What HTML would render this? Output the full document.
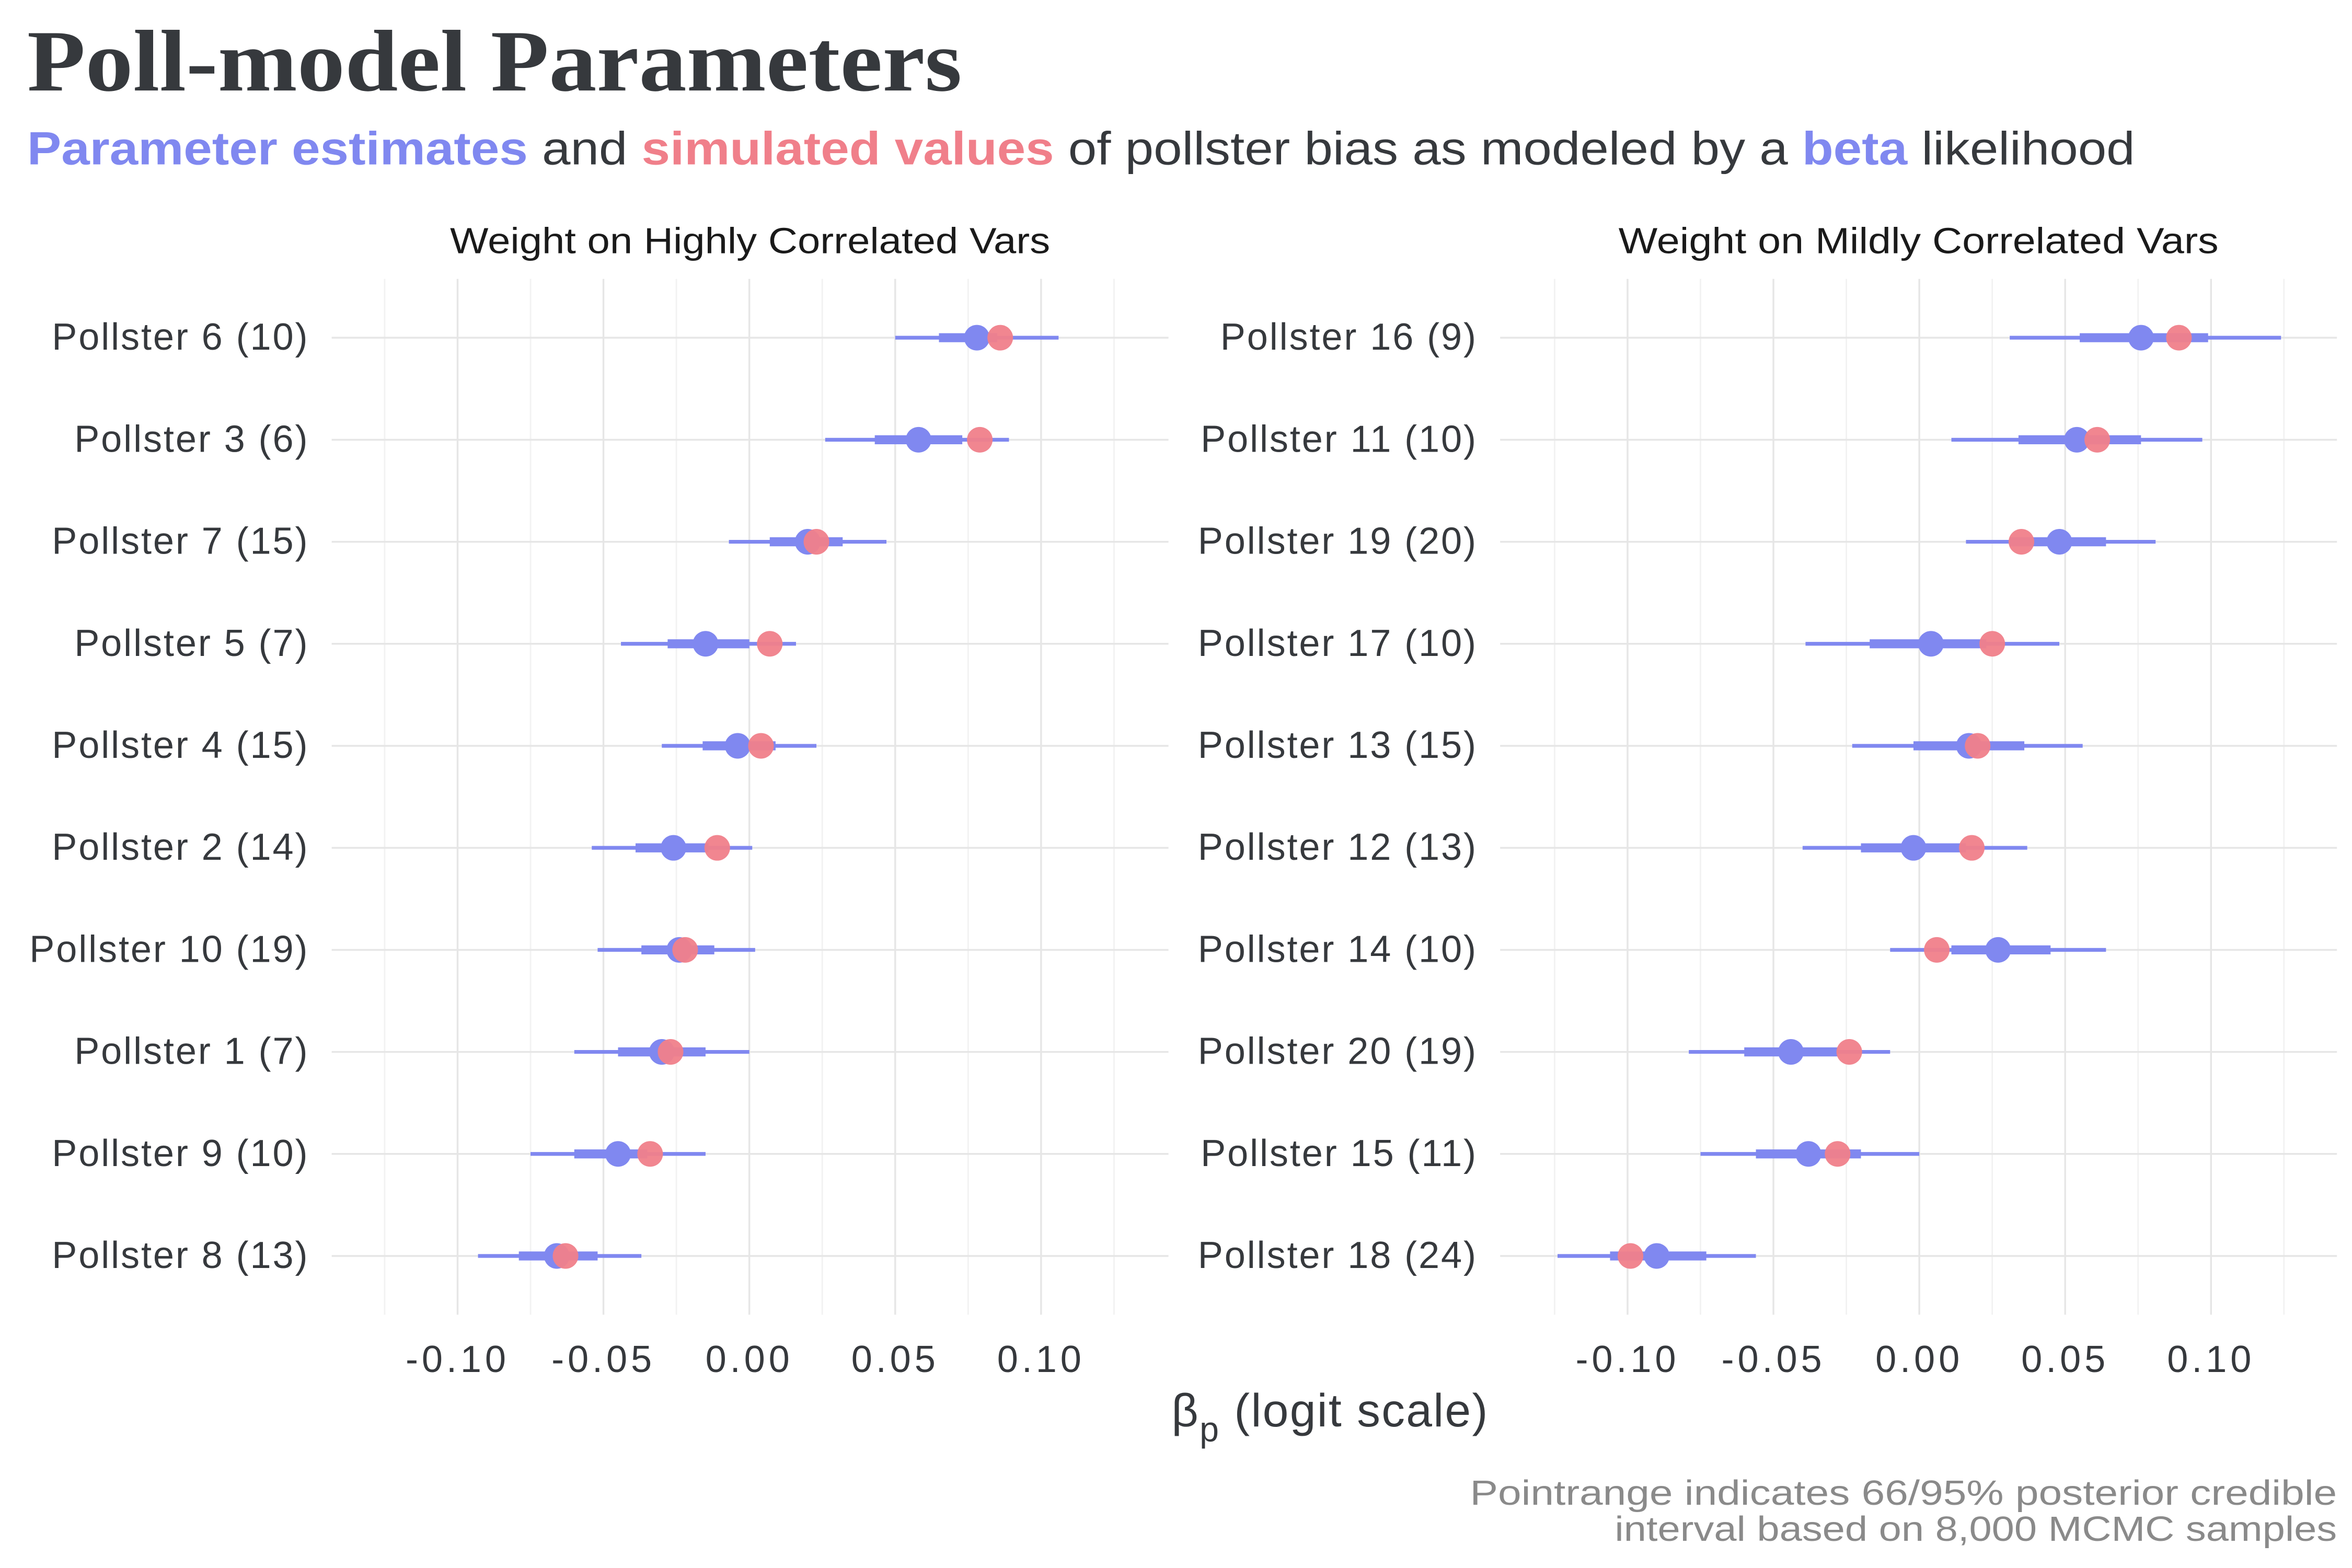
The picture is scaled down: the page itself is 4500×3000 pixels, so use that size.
<!DOCTYPE html>
<html><head><meta charset="utf-8"><style>
html,body{margin:0;padding:0;background:#fff;}
svg{display:block;}
text{font-family:"Liberation Sans",sans-serif;}
</style></head>
<body>
<svg id="chart" width="4500" height="3000" viewBox="0 0 1560 1040" xmlns="http://www.w3.org/2000/svg">
<text x="18" y="60" font-weight="bold" font-size="58" fill="#36393d" textLength="620" lengthAdjust="spacingAndGlyphs" style="font-family:'Liberation Serif',serif">Poll-model Parameters</text>
<text x="18" y="109" font-size="31" fill="#36393d" textLength="1398" lengthAdjust="spacingAndGlyphs"><tspan fill="#8088f0" font-weight="bold">Parameter estimates</tspan> and <tspan fill="#f07f8a" font-weight="bold">simulated values</tspan> of pollster bias as modeled by a <tspan fill="#8088f0" font-weight="bold">beta</tspan> likelihood</text>
<g id="panels"></g>
<text x="777" y="946" font-size="31" fill="#36393d" letter-spacing="0.8">β<tspan font-size="23" dy="10">p</tspan><tspan dy="-10"> (logit scale)</tspan></text>
<text x="975" y="998" font-size="23" fill="#8a8a8a" textLength="575" lengthAdjust="spacingAndGlyphs">Pointrange indicates 66/95% posterior credible</text>
<text x="1071" y="1022" font-size="23" fill="#8a8a8a" textLength="479" lengthAdjust="spacingAndGlyphs">interval based on 8,000 MCMC samples</text>
</svg>
<script>
const leftLabels=["Pollster 6 (10)","Pollster 3 (6)","Pollster 7 (15)","Pollster 5 (7)","Pollster 4 (15)","Pollster 2 (14)","Pollster 10 (19)","Pollster 1 (7)","Pollster 9 (10)","Pollster 8 (13)"];
const leftEst=[0.078,0.058,0.020,-0.015,-0.004,-0.026,-0.024,-0.030,-0.045,-0.066];
const leftSim=[0.086,0.079,0.023,0.007,0.004,-0.011,-0.022,-0.027,-0.034,-0.063];
const leftInLo=[0.065,0.043,0.007,-0.028,-0.016,-0.039,-0.037,-0.045,-0.060,-0.079];
const leftInHi=[0.085,0.073,0.032,0.000,0.009,-0.014,-0.012,-0.015,-0.035,-0.052];
const leftOutLo=[0.050,0.026,-0.007,-0.044,-0.030,-0.054,-0.052,-0.060,-0.075,-0.093];
const leftOutHi=[0.106,0.089,0.047,0.016,0.023,0.001,0.002,0.000,-0.015,-0.037];
const rightLabels=["Pollster 16 (9)","Pollster 11 (10)","Pollster 19 (20)","Pollster 17 (10)","Pollster 13 (15)","Pollster 12 (13)","Pollster 14 (10)","Pollster 20 (19)","Pollster 15 (11)","Pollster 18 (24)"];
const rightEst=[0.076,0.054,0.048,0.004,0.017,-0.002,0.027,-0.044,-0.038,-0.090];
const rightSim=[0.089,0.061,0.035,0.025,0.020,0.018,0.006,-0.024,-0.028,-0.099];
const rightInLo=[0.055,0.034,0.031,-0.017,-0.002,-0.020,0.011,-0.060,-0.056,-0.106];
const rightInHi=[0.099,0.076,0.064,0.023,0.036,0.016,0.045,-0.028,-0.020,-0.073];
const rightOutLo=[0.031,0.011,0.016,-0.039,-0.023,-0.040,-0.010,-0.079,-0.075,-0.124];
const rightOutHi=[0.124,0.097,0.081,0.048,0.056,0.037,0.064,-0.010,0.000,-0.056];
const tickVals=[-0.10,-0.05,0.00,0.05,0.10];
const tickLabels=["-0.10","-0.05","0.00","0.05","0.10"];
const minorVals=[-0.125,-0.075,-0.025,0.025,0.075,0.125];
const panelTitles=["Weight on Highly Correlated Vars","Weight on Mildly Correlated Vars"];

const NS="http://www.w3.org/2000/svg";
const root=document.getElementById('panels');
function mk(tag,attrs,parent){const e=document.createElementNS(NS,tag);for(const k in attrs)e.setAttribute(k,attrs[k]);(parent||root).appendChild(e);return e;}
const BLUE="#8088f0",RED="#f07f8a";
function panel(idx,x0,x1,zeroX,labels,est,sim,inLo,inHi,outLo,outHi){
  const sx=v=>zeroX+v*1935;
  const y0=224,dy=67.67,sy=i=>y0+i*dy;
  const g=mk('g',{});
  
  
  minorVals.forEach(v=>{const l=mk('line',{x1:sx(v),x2:sx(v),y1:185,y2:872,stroke:"#f2f2f2","stroke-width":1},g);});
  tickVals.forEach((v,i)=>{const l=mk('line',{x1:sx(v),x2:sx(v),y1:185,y2:872,stroke:"#e6e6e6","stroke-width":1.2},g);
    const t=mk('text',{x:sx(v),y:910,"text-anchor":"middle","font-size":25,"letter-spacing":2.4,fill:"#36393d"},g);t.textContent=tickLabels[i];});
  labels.forEach((lab,i)=>{const y=sy(i);
    const l=mk('line',{x1:x0,x2:x1,y1:y,y2:y,stroke:"#e6e6e6","stroke-width":1.2},g);
    const t=mk('text',{x:x0-15,y:y+8,"text-anchor":"end","font-size":25,"letter-spacing":1,fill:"#36393d"},g);t.textContent=lab;
    const o=mk('line',{x1:sx(outLo[i]),x2:sx(outHi[i]),y1:y,y2:y,stroke:BLUE,"stroke-width":2.5},g);
    const n=mk('line',{x1:sx(inLo[i]),x2:sx(inHi[i]),y1:y,y2:y,stroke:BLUE,"stroke-width":6},g);
    const b=mk('circle',{cx:sx(est[i]),cy:y,r:8.5,fill:BLUE},g);
    const r=mk('circle',{cx:sx(sim[i]),cy:y,r:8.5,fill:RED,"fill-opacity":0.95},g);
  });
  const pt=mk('text',{x:(x0+x1)/2-199,y:168,"font-size":24,fill:"#1a1a1a",textLength:398,lengthAdjust:"spacingAndGlyphs"},g);pt.textContent=panelTitles[idx];
  
  
}
panel(0,220,775,497,leftLabels,leftEst,leftSim,leftInLo,leftInHi,leftOutLo,leftOutHi);
panel(1,995,1550,1273,rightLabels,rightEst,rightSim,rightInLo,rightInHi,rightOutLo,rightOutHi);
</script>
</body></html>
